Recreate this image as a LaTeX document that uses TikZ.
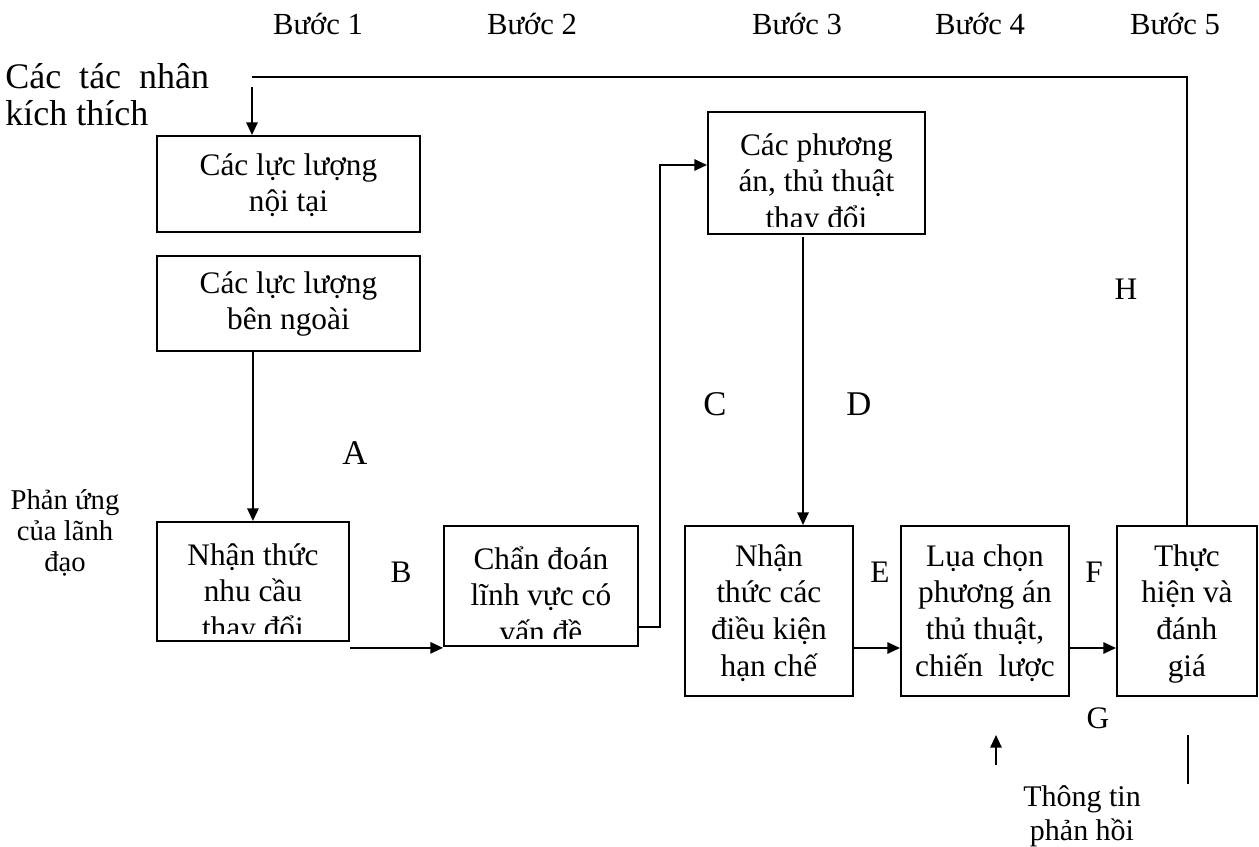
\documentclass[tikz,border=0pt]{standalone}
\usepackage{fontspec}
\setmainfont{Liberation Serif}
\usetikzlibrary{arrows.meta,calc}

% font sizes of the chart
\newcommand{\boxfont}{\fontsize{23.5}{27.5}\selectfont}
\newcommand{\stepfont}{\fontsize{23}{26}\selectfont}
\newcommand{\bigfont}{\fontsize{27}{28}\selectfont}
\newcommand{\letterfont}{\fontsize{26}{28}\selectfont}
\newcommand{\smallletterfont}{\fontsize{23.5}{26}\selectfont}
\newcommand{\sidefont}{\fontsize{21.5}{23.5}\selectfont}
\newcommand{\notefont}{\fontsize{22.5}{26}\selectfont}
\newcommand{\lines}[1]{\begin{tabular}[t]{@{}c@{}}#1\end{tabular}}

\tikzset{
  x=0.75pt, y=-0.75pt,
  box/.style={draw, line width=1.4pt, rectangle, inner sep=0pt, anchor=north west},
  boxtext/.style={anchor=base, inner sep=0pt, font=\boxfont},
  arr/.style={line width=1.4pt, -{Triangle[length=9.5pt,width=8.5pt]}},
  plain/.style={line width=1.1pt},
  lbl/.style={inner sep=0pt, anchor=base}
}

% box with top-left corner (#2,#3) and bottom-right corner (#4,#5)
\newcommand{\chartbox}[5]{%
  \node[box, minimum width={(#4-#2)*0.75pt}, minimum height={(#5-#3)*0.75pt}] (#1) at (#2,#3) {};}
% text of a box, first baseline #2 px below its top, clipped a little above its bottom
\newcommand{\chartboxtext}[4]{%
  \begin{scope}
    \clip ([xshift=1pt,yshift=-1pt]#1.north west) rectangle ([xshift=-1pt,yshift=6pt]#1.south east);
    \node[boxtext] (#4) at ($(#1.north)+(0,#2)$) {\lines{#3}};
  \end{scope}}

\begin{document}
\begin{tikzpicture}
\useasboundingbox (0,0) rectangle (1259,846);

% step headings
\node[lbl, font=\stepfont] (s1) at (318,34) {Bước 1};
\node[lbl, font=\stepfont] (s2) at (532,34) {Bước 2};
\node[lbl, font=\stepfont] (s3) at (797,34) {Bước 3};
\node[lbl, font=\stepfont] (s4) at (980,34) {Bước 4};
\node[lbl, font=\stepfont] (s5) at (1175,34) {Bước 5};

% side texts
\node[inner sep=0pt, anchor=base west, font=\bigfont] (stim) at (5,88)
  {\begin{tabular}[t]{@{}l@{}}Các\ \ tác\ \ nhân\\kích thích\end{tabular}};
\node[inner sep=0pt, anchor=base, font=\sidefont] (lead) at (65,509)
  {\lines{Phản ứng\\của lãnh\\đạo}};

% boxes
\chartbox{b1}{156}{135}{419}{231}
\chartbox{b2}{156}{255}{419}{350}
\chartbox{b3}{156}{521}{348}{640}
\chartbox{b4}{443}{525}{637}{645}
\chartbox{b5}{707}{111}{924}{233}
\chartbox{b6}{684}{525}{852}{695}
\chartbox{b7}{900}{525}{1068}{695}
\chartbox{b8}{1116}{525}{1256}{695}

\chartboxtext{b1}{40}{Các lực lượng\\nội tại}{t1}
\chartboxtext{b2}{38}{Các lực lượng\\bên ngoài}{t2}
\chartboxtext{b3}{44}{Nhận thức\\nhu cầu\\thay đổi}{t3}
\chartboxtext{b4}{44}{Chẩn đoán\\lĩnh vực có\\vấn đề}{t4}
\chartboxtext{b5}{44}{Các phương\\án, thủ thuật\\thay đổi}{t5}
\chartboxtext{b6}{41}{Nhận\\thức các\\điều kiện\\hạn chế}{t6}
\chartboxtext{b7}{41}{Lụa chọn\\phương án\\thủ thuật,\\chiến\ \ lược}{t7}
\chartboxtext{b8}{41}{Thực\\hiện và\\đánh\\giá}{t8}

% letters on the connectors
\node[lbl, font=\letterfont] (la) at (355,464) {A};
\node[lbl, font=\smallletterfont] (lb) at (401,582) {B};
\node[lbl, font=\letterfont] (lc) at (715,415) {C};
\node[lbl, font=\letterfont] (ld) at (859,415) {D};
\node[lbl, font=\smallletterfont] (le) at (880,582) {E};
\node[lbl, font=\smallletterfont] (lf) at (1094,582) {F};
\node[lbl, font=\smallletterfont] (lg) at (1098,728) {G};
\node[lbl, font=\smallletterfont] (lh) at (1126,299) {H};

% feedback note
\node[inner sep=0pt, anchor=base, font=\notefont] (fb) at (1082,806)
  {\lines{Thông tin\\phản hồi}};

% connectors
\coordinate (ktop) at (252,77);
\coordinate (kin) at (252,87);
\draw[plain] (ktop) -| (b8.north);
\draw[arr] (kin) -- (kin |- b1.north);
\draw[arr] (b2.south -| b3.north) -- (b3.north);
\draw[arr] ([yshift=-4.5pt]b3.south east) -- ([yshift=-4.5pt]b3.south east -| b4.west);
\coordinate (c1) at (660,627);
\coordinate (c2) at (660,165);
\draw[arr] (b4.east |- c1) -- (c1) -- (c2) -- (c2 -| b5.west);
\coordinate (d1) at (803,237);
\draw[arr] (d1) -- (d1 |- b6.north);
\coordinate (ey) at (0,648);
\draw[arr] (b6.east |- ey) -- (b7.west |- ey);
\draw[arr] (b7.east |- ey) -- (b8.west |- ey);
\coordinate (up1) at (996,765);
\coordinate (up2) at (996,735);
\draw[arr] (up1) -- (up2);
\coordinate (g1) at (1188,735);
\coordinate (g2) at (1188,784);
\draw[plain] (g1) -- (g2);
\end{tikzpicture}
\end{document}
